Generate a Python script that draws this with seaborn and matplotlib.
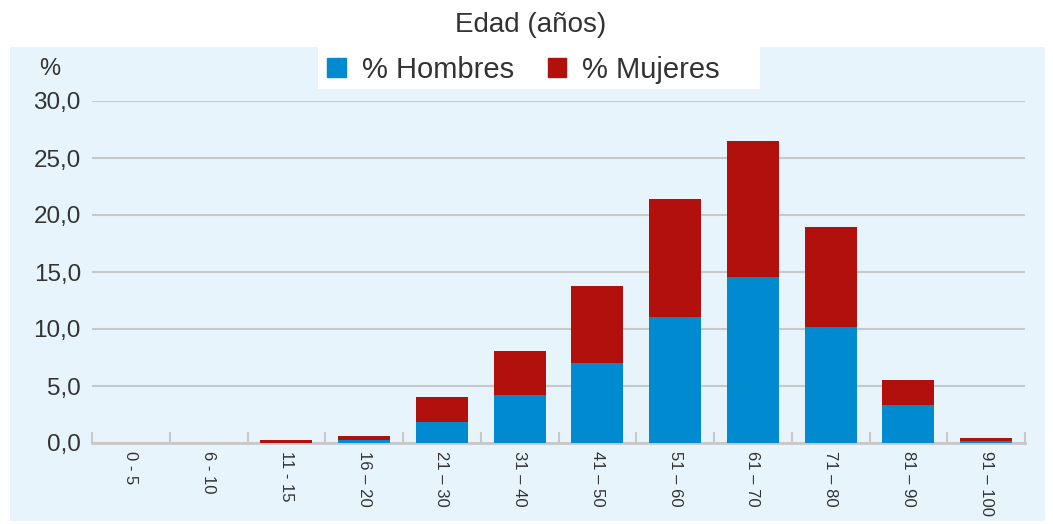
import matplotlib
matplotlib.use("Agg")
import matplotlib.pyplot as plt
import matplotlib.patches as mpatches
from matplotlib.ticker import FixedLocator
import seaborn as sns
import pandas as pd
import numpy as np

# Data
grupos = ["0 - 5", "6 - 10", "11 - 15", "16 – 20", "21 – 30", "31 – 40",
          "41 – 50", "51 – 60", "61 – 70", "71 – 80", "81 – 90", "91 – 100"]
hombres = [0.0, 0.0, 0.0, 0.25, 1.85, 4.2, 7.0, 11.05, 14.55, 10.2, 3.35, 0.2]
mujeres = [0.0, 0.0, 0.25, 0.35, 2.2, 3.85, 6.75, 10.35, 11.95, 8.75, 2.2, 0.25]
yticks = [0, 5, 10, 15, 20, 25, 30]

AZUL = "#008BD0"
ROJO = "#B2100C"
PANEL = "#E8F4FC"
GRIS = "#C8C8C8"
TEXTO = "#333333"

df = pd.DataFrame({"grupo": grupos, "hombres": hombres, "mujeres": mujeres})
df["total"] = df["hombres"] + df["mujeres"]

sns.set_style("white")
plt.rcParams["font.family"] = ["Liberation Sans", "DejaVu Sans"]

W, H = 1053, 524
fig = plt.figure(figsize=(W / 100, H / 100), dpi=100)
fig.patch.set_facecolor("white")

# light blue panel behind everything (own axes at the bottom of the stack)
bg = fig.add_axes([10 / W, 3 / H, 1035 / W, (521 - 47) / H], zorder=-10)
bg.set_facecolor(PANEL)
bg.set_xticks([])
bg.set_yticks([])
for s in bg.spines.values():
    s.set_visible(False)
# white strip behind the legend
bg.add_patch(mpatches.Rectangle((318 / W, 1 - 89 / H), (760 - 318) / W, (89 - 47) / H,
                                transform=fig.transFigure, facecolor="white",
                                edgecolor="none"))

ax = fig.add_axes([92 / W, (H - 443) / H, (1025 - 92) / W, (443 - 101) / H])
ax.set_facecolor("none")

# stacked bars: total in red, men drawn over it in blue
sns.barplot(data=df, x="grupo", y="total", color=ROJO, width=0.67,
            saturation=1, linewidth=0, ax=ax, zorder=3)
sns.barplot(data=df, x="grupo", y="hombres", color=AZUL, width=0.67,
            saturation=1, linewidth=0, ax=ax, zorder=3)

ax.set_xlim(-0.5, len(grupos) - 0.5)
ax.set_ylim(0, 30)
ax.set_yticks(yticks)
ax.set_yticklabels([f"{v:.1f}".replace(".", ",") for v in yticks],
                   fontsize=17.5, color=TEXTO)
ax.yaxis.grid(True, color=GRIS, linewidth=1.5, zorder=0)
ax.set_axisbelow(True)
ax.tick_params(axis="y", length=0, pad=8)

ax.set_xticks(range(len(grupos)))
ax.set_xticklabels(grupos, rotation=270, fontsize=12, color=TEXTO,
                   va="top", ha="center")
ax.tick_params(axis="x", which="major", length=0, pad=6)
ax.xaxis.set_minor_locator(FixedLocator(np.arange(-0.5, len(grupos), 1.0)))
ax.tick_params(axis="x", which="minor", bottom=True, direction="in", length=8,
               width=1.5, color=GRIS)

for s in ["top", "right", "left"]:
    ax.spines[s].set_visible(False)
ax.spines["bottom"].set_color(GRIS)
ax.spines["bottom"].set_linewidth(2)
ax.set_xlabel("")
ax.set_ylabel("")

fig.text(50 / W, 1 - 69 / H, "%", fontsize=17, color=TEXTO, ha="center", va="center")
fig.text(531 / W, 1 - 25 / H, "Edad (años)", fontsize=20, color=TEXTO,
         ha="center", va="center")

handles = [mpatches.Patch(color=AZUL, label="% Hombres"),
           mpatches.Patch(color=ROJO, label="% Mujeres")]
leg = fig.legend(handles=handles, loc="center left", bbox_to_anchor=(327 / W, 1 - 70 / H),
                 ncol=2, fontsize=21, frameon=False,
                 handlelength=0.64, handleheight=0.64, handletextpad=0.55,
                 columnspacing=1.16, borderpad=0, borderaxespad=0)
for t in leg.get_texts():
    t.set_color(TEXTO)

fig.savefig("out.png", dpi=100, facecolor="white")
